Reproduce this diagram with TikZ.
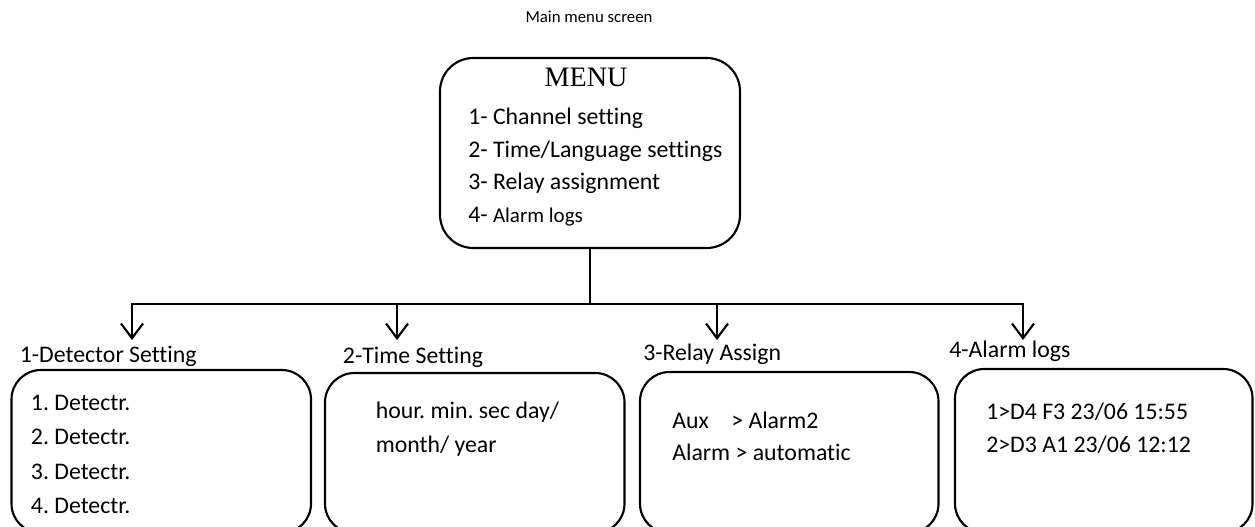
\documentclass[tikz,border=0pt]{standalone}
\usepackage{fontspec}
\setmainfont{Carlito}[Ligatures=NoCommon]
\newfontfamily\menufont{Liberation Serif}
\usetikzlibrary{arrows.meta}
\frenchspacing
\begin{document}
\begin{tikzpicture}[x=0.75pt,y=-0.75pt,
  screen/.style={draw, line width=1.6pt, rounded corners=22pt, inner sep=0pt, outer sep=0pt},
  txt/.style={anchor=base west, inner sep=0pt, font=\fontsize{17.85}{20}\selectfont},
  conn/.style={line width=1.6pt},
  arr/.style={conn, -{Straight Barb[length=11pt, width=16.5pt]}}
]
\fill[white] (0,0) rectangle (1255,527);
\useasboundingbox (0,0) rectangle (1255,527);

% title
\node[anchor=base, inner sep=0pt, font=\fontsize{12.6}{15}\selectfont] (title) at (589,23) {Main menu screen};

% main menu box
\node[screen, rounded corners=25pt, minimum width=300*0.75pt, minimum height=190*0.75pt] (menu) at (590,153) {};
\node[anchor=base, inner sep=0pt, font=\menufont\fontsize{21.1}{24}\selectfont] (menutitle) at (586,87) {MENU};
\node[txt] (m1) at (468,125) {1- Channel setting};
\node[txt] (m2) at (468,158) {2- Time/Language settings};
\node[txt] (m3) at (468,190) {3- Relay assignment};
\node[txt] (m4) at (468,223) {4- {\fontsize{15.75}{18}\selectfont Alarm logs}};

% connector coordinates
\coordinate (j1) at (132,304);
\coordinate (j2) at (397,304);
\coordinate (j3) at (717,304);
\coordinate (j4) at (1023,304);
\coordinate (t1) at (132,340);
\coordinate (t2) at (397,340);
\coordinate (t3) at (717,340);
\coordinate (t4) at (1023,340);

\draw[conn] (menu.south) -- (menu.south |- j1);
\draw[conn, line cap=rect] (j1) -- (j4);
\draw[arr] (j1) -- (t1);
\draw[arr] (j2) -- (t2);
\draw[arr] (j3) -- (t3);
\draw[arr] (j4) -- (t4);

% labels
\node[txt] (l1) at (19.6,362) {1-Detector Setting};
\node[txt] (l2) at (342.7,363) {2-Time Setting};
\node[txt] (l3) at (643,360) {3-Relay Assign};
\node[txt] (l4) at (949,357) {4-Alarm logs};

% bottom boxes
\node[screen, minimum width=299.5*0.75pt, minimum height=163*0.75pt] (box1) at (161.25,451.5) {};
\node[screen, minimum width=299.5*0.75pt, minimum height=160*0.75pt] (box2) at (474.75,453) {};
\node[screen, minimum width=298.5*0.75pt, minimum height=161*0.75pt] (box3) at (789.25,452.5) {};
\node[screen, minimum width=297.5*0.75pt, minimum height=164*0.75pt] (box4) at (1103.75,451) {};

% box 1 text
\node[txt] (d1) at (30.7,410) {1. Detectr.};
\node[txt] (d2) at (30.7,444.5) {2. Detectr.};
\node[txt] (d3) at (30.7,479) {3. Detectr.};
\node[txt] (d4) at (30.7,513.5) {4. Detectr.};

% box 2 text
\node[txt] (h1) at (375.5,418) {hour. min. sec day/};
\node[txt] (h2) at (375.5,452) {month/ year};

% box 3 text
\node[txt] (r1a) at (672,428) {Aux};
\node[txt] (r1b) at (731,428) {> Alarm2};
\node[txt] (r2) at (672,460) {Alarm > automatic};

% box 4 text
\node[txt] (a1) at (986,419) {1>D4 F3 23/06 15:55};
\node[txt] (a2) at (986,452) {2>D3 A1 23/06 12:12};
\end{tikzpicture}
\end{document}
